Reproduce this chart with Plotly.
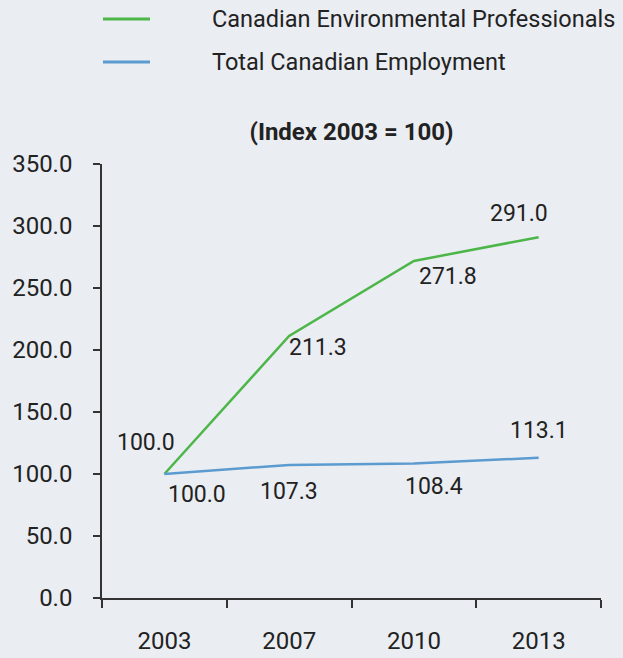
import plotly.graph_objects as go

years = ["2003", "2007", "2010", "2013"]
env_prof = [100.0, 211.3, 271.8, 291.0]
total_emp = [100.0, 107.3, 108.4, 113.1]
series_names = ["Canadian Environmental Professionals", "Total Canadian Employment"]
y_ticks = [0, 50, 100, 150, 200, 250, 300, 350]

GREEN = "#4cb648"
BLUE = "#5b9bd0"
BG = "#eaedf2"
FONT = "Roboto"
TXT = "#222222"
W, H = 623, 658
ML, MR, MT, MB = 102, 22, 164, 60
PW, PH = W - ML - MR, H - MT - MB

fig = go.Figure()
colors = [GREEN, BLUE]
for name, vals, col in zip(series_names, (env_prof, total_emp), colors):
    fig.add_trace(go.Scatter(x=years, y=vals, mode="lines", name=name,
                             line=dict(color=col, width=2.5), showlegend=False))

# data labels: (xshift, yshift) per point; x given as category index
env_off = [(-18, 32), (29, -12), (34, -16), (-20, 24)]
tot_off = [(33, -20), (0, -27), (20, -23), (0, 27)]
for vals, offs in ((env_prof, env_off), (total_emp, tot_off)):
    for i, (v, (dx, dy)) in enumerate(zip(vals, offs)):
        fig.add_annotation(x=i, y=v, xref="x", yref="y", text=f"{v:.1f}",
                           showarrow=False, xshift=dx, yshift=dy,
                           font=dict(family=FONT, size=23, color=TXT))

# legend drawn manually (line sample + text)
leg_y = [19, 62]
for name, col, ly in zip(series_names, colors, leg_y):
    yp = (H - MB - ly) / PH
    fig.add_shape(type="line", xref="paper", yref="paper",
                  x0=(103 - ML) / PW, x1=(150 - ML) / PW, y0=yp, y1=yp,
                  line=dict(color=col, width=3))
    fig.add_annotation(xref="paper", yref="paper", x=(210 - ML) / PW, y=yp,
                       xanchor="left", yanchor="middle", showarrow=False,
                       text=name, font=dict(family=FONT, size=23.5, color=TXT))

fig.update_layout(
    width=W, height=H,
    paper_bgcolor=BG, plot_bgcolor=BG,
    margin=dict(l=ML, r=MR, t=MT, b=MB, autoexpand=False),
    font=dict(family=FONT, size=22, color=TXT),
    title=dict(text="<b>(Index 2003 = 100)</b>", x=0.5, xref="paper", xanchor="center",
               y=1 - 132 / H, yref="container", yanchor="middle",
               font=dict(family=FONT, size=24, color=TXT)),
    showlegend=False,
    xaxis=dict(type="category", range=[-0.5, 3.5], showline=True, linecolor="#333",
               linewidth=1.5, ticks="outside", tickson="boundaries", ticklen=8,
               tickcolor="#333", tickwidth=1.5, showgrid=False, zeroline=False,
               ticklabelstandoff=20, tickfont=dict(size=24)),
    yaxis=dict(range=[0, 350], tickvals=y_ticks, tickformat=".1f", showline=True,
               linecolor="#333", linewidth=1.5, ticks="outside", ticklen=7,
               tickcolor="#333", tickwidth=1.5, showgrid=False, zeroline=False,
               ticklabelstandoff=16, tickfont=dict(size=24)),
)

fig.write_html("out.html")
